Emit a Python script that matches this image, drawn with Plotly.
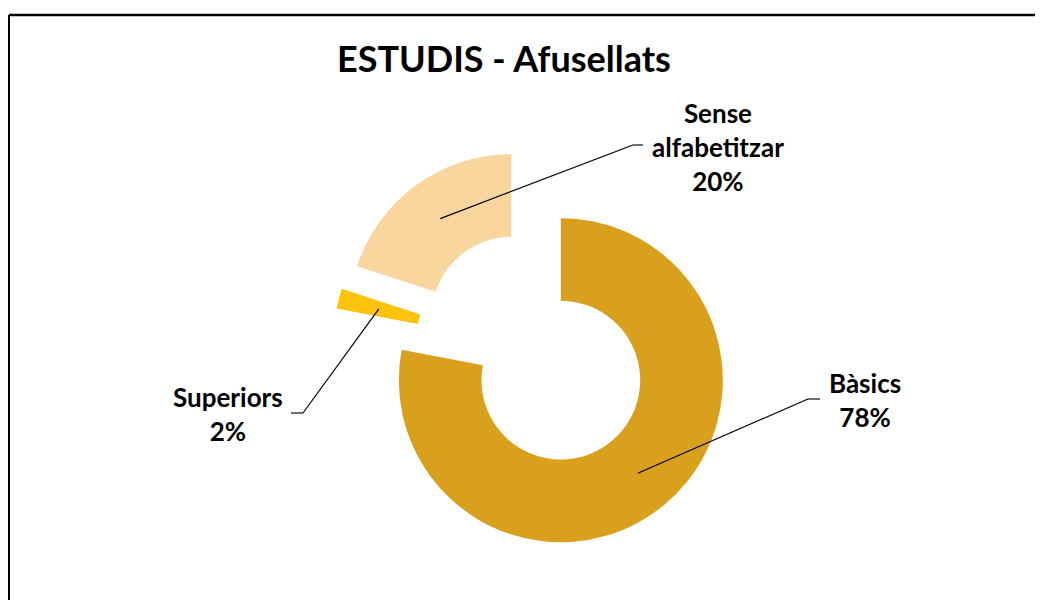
import math
import plotly.graph_objects as go

# ----------------------------------
# DATA
# ----------------------------------

labels = ["Bàsics", "Superiors", "Sense alfabetitzar"]
values = [78, 2, 20]
label_text = ["Bàsics", "Superiors", "Sense<br>alfabetitzar"]
colors = ["#D8A01C", "#FDC20C", "#F8D69E"]

title_text = "ESTUDIS - Afusellats"

# ----------------------------------
# LAYOUT CONSTANTS (screen pixels)
# ----------------------------------

PAGE_MARGIN = 8            # default body margin of the html page
W, H = 1043 - 2 * PAGE_MARGIN, 608 - 2 * PAGE_MARGIN
CX, CY = 535, 349          # pie centre
BOX = 405                  # pie domain size
PULL = 0.25
HOLE = 0.49

# label centre, elbow of leader line, end of leader line
label_pos = {
    "Bàsics": dict(text=(865, 400), elbow=(808, 399), end=(820, 399)),
    "Superiors": dict(text=(228, 414), elbow=(303, 413), end=(291, 413)),
    "Sense alfabetitzar": dict(text=(718, 147), elbow=(633, 145), end=(643, 145)),
}

FONT = "Lato"


def px(x, y):
    return (x - PAGE_MARGIN) / W, 1 - (y - PAGE_MARGIN) / H


# ----------------------------------
# PIE
# ----------------------------------

x0, y0 = px(CX - BOX / 2, CY + BOX / 2)
x1, y1 = px(CX + BOX / 2, CY - BOX / 2)

fig = go.Figure()

fig.add_trace(
    go.Pie(
        labels=labels,
        values=values,
        sort=False,
        direction="clockwise",
        rotation=0,
        hole=HOLE,
        pull=PULL,
        textinfo="none",
        hoverinfo="label+percent",
        marker=dict(colors=colors, line=dict(width=0)),
        domain=dict(x=[x0, x1], y=[y0, y1]),
        showlegend=False,
    )
)

# ----------------------------------
# LABELS + LEADER LINES
# ----------------------------------

total = sum(values)
R = BOX / (2 * (1 + PULL))
r_mid = R * (1 + HOLE) / 2

cum = 0
for name, v, txt in zip(labels, values, label_text):
    mid = (cum + v / 2) / total * 2 * math.pi
    cum += v
    dx, dy = math.sin(mid), -math.cos(mid)
    ax = CX + PULL * R * dx + r_mid * dx
    ay = CY + PULL * R * dy + r_mid * dy

    pos = label_pos[name]
    pct = round(v / total * 100)

    tx, ty = px(*pos["text"])
    fig.add_annotation(
        x=tx, y=ty, xref="paper", yref="paper",
        xanchor="center", yanchor="middle",
        text=f"<b>{txt}<br>{pct}%</b>",
        showarrow=False,
        align="center",
        font=dict(family=FONT, size=26, color="#000000"),
    )

    pa = px(ax, ay)
    pe = px(*pos["elbow"])
    pn = px(*pos["end"])
    fig.add_shape(type="line", xref="paper", yref="paper",
                  x0=pa[0], y0=pa[1], x1=pe[0], y1=pe[1],
                  line=dict(color="#000000", width=1.2))
    fig.add_shape(type="line", xref="paper", yref="paper",
                  x0=pe[0], y0=pe[1], x1=pn[0], y1=pn[1],
                  line=dict(color="#404040", width=1.5))

# ----------------------------------
# FRAME
# ----------------------------------

fl, ft = px(9, 15)
fig.add_shape(type="line", xref="paper", yref="paper",
              x0=fl, y0=0, x1=fl, y1=ft,
              line=dict(color="#000000", width=2))
fig.add_shape(type="line", xref="paper", yref="paper",
              x0=fl, y0=ft, x1=1, y1=ft,
              line=dict(color="#000000", width=2.5))

# ----------------------------------
# TITLE
# ----------------------------------

tx, ty = px(504, 59)
fig.update_layout(
    title=dict(
        text=f"<b>{title_text}</b>",
        x=tx,
        xanchor="center",
        y=ty,
        yanchor="middle",
        font=dict(family=FONT, size=36, color="#000000"),
    ),
    width=W,
    height=H,
    margin=dict(l=0, r=0, t=0, b=0),
    paper_bgcolor="#FFFFFF",
    plot_bgcolor="#FFFFFF",
)

fig.write_html("out.html")
